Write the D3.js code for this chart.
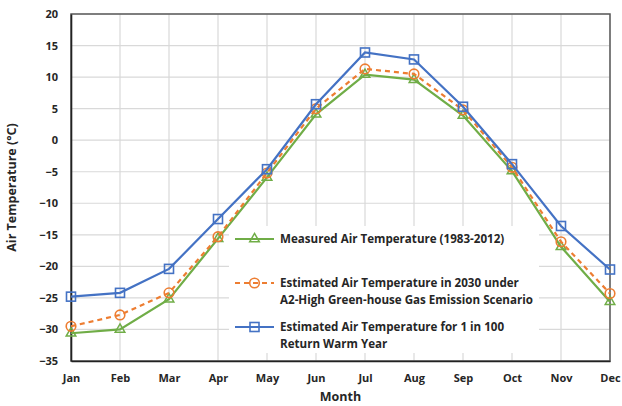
<!DOCTYPE html>
<html>
<head>
<meta charset="utf-8">
<script src="https://cdn.jsdelivr.net/npm/d3@7"></script>
<style>
  body { margin: 0; background: #fff; }
  svg { display: block; font-family: "Open Sans", Lato, sans-serif; }
</style>
</head>
<body>
<svg id="chart" width="622" height="406"></svg>
<script>
const months = ["Jan","Feb","Mar","Apr","May","Jun","Jul","Aug","Sep","Oct","Nov","Dec"];
const measured = [-30.6, -30.0, -25.2, -15.6, -5.9, 4.1, 10.4, 9.6, 3.9, -4.9, -16.9, -25.6];
const est2030 = [-29.5, -27.7, -24.2, -15.3, -5.2, 5.0, 11.3, 10.5, 4.8, -4.3, -16.1, -24.3];
const warmYear = [-24.8, -24.2, -20.4, -12.5, -4.6, 5.7, 13.9, 12.8, 5.3, -3.8, -13.6, -20.5];
const yTicks = [20, 15, 10, 5, 0, -5, -10, -15, -20, -25, -30, -35];
const seriesNames = [
  ["Measured Air Temperature (1983-2012)"],
  ["Estimated Air Temperature in 2030 under", "A2-High Green-house Gas Emission Scenario"],
  ["Estimated Air Temperature for 1 in 100", "Return Warm Year"]
];

const svg = d3.select("#chart");
const m = { left: 71, right: 12, top: 14, bottom: 45 };
const W = 622, H = 406;
const x = d3.scalePoint().domain(months).range([m.left, W - m.right]);
const y = d3.scaleLinear().domain([-35, 20]).range([H - m.bottom, m.top]);

const series = [
  { values: measured, color: "#70AD47", dash: null, marker: "triangle" },
  { values: est2030, color: "#ED7D31", dash: "5,4", marker: "circle" },
  { values: warmYear, color: "#4472C4", dash: null, marker: "square" }
];

// grid
const g = svg.append("g");
g.selectAll(".hg").data(yTicks).join("line")
  .attr("x1", m.left).attr("x2", W - m.right)
  .attr("y1", d => y(d)).attr("y2", d => y(d))
  .attr("stroke", "#d9d9d9").attr("stroke-width", 1.2);
g.selectAll(".vg").data(months).join("line")
  .attr("x1", d => x(d)).attr("x2", d => x(d))
  .attr("y1", m.top).attr("y2", H - m.bottom)
  .attr("stroke", "#d9d9d9").attr("stroke-width", 1.2);

// frame
svg.append("rect")
  .attr("x", m.left).attr("y", m.top)
  .attr("width", W - m.right - m.left).attr("height", H - m.bottom - m.top)
  .attr("fill", "none").attr("stroke", "#595959").attr("stroke-width", 1.5);

// axes
const yAxis = svg.append("g").attr("transform", `translate(${m.left},0)`)
  .call(d3.axisLeft(y).tickValues(yTicks).tickSize(0).tickPadding(13));
const xAxis = svg.append("g").attr("transform", `translate(0,${H - m.bottom})`)
  .call(d3.axisBottom(x).tickSize(0).tickPadding(13));
[yAxis, xAxis].forEach(a => {
  a.select(".domain").attr("stroke", "#222").attr("stroke-width", 1.6);
  a.selectAll("text").attr("font-family", "'Open Sans', sans-serif")
    .attr("font-size", 11).attr("font-weight", "bold").attr("fill", "#262626");
});

svg.append("text").attr("x", (m.left + W - m.right) / 2).attr("y", 401)
  .attr("text-anchor", "middle").attr("font-size", 12.5).attr("font-weight", "bold").attr("fill", "#262626")
  .text("Month");
svg.append("text").attr("transform", `translate(16,${(m.top + H - m.bottom) / 2}) rotate(-90)`)
  .attr("text-anchor", "middle").attr("font-size", 12.5).attr("font-weight", "bold").attr("fill", "#262626")
  .text("Air Temperature (°C)");

function drawMarker(sel, type, color) {
  if (type === "circle") {
    sel.append("circle").attr("r", 4.8).attr("fill", "none").attr("stroke", color).attr("stroke-width", 1.6);
  } else if (type === "square") {
    sel.append("rect").attr("x", -4.5).attr("y", -4.5).attr("width", 9).attr("height", 9)
      .attr("fill", "none").attr("stroke", color).attr("stroke-width", 1.6);
  } else {
    sel.append("path").attr("d", d3.symbol(d3.symbolTriangle, 40)())
      .attr("fill", "none").attr("stroke", color).attr("stroke-width", 1.5);
  }
}

const line = d3.line().x((d, i) => x(months[i])).y(d => y(d));
series.forEach(s => {
  svg.append("path").datum(s.values).attr("d", line)
    .attr("fill", "none").attr("stroke", s.color).attr("stroke-width", 2.2)
    .attr("stroke-dasharray", s.dash);
  s.values.forEach((v, i) => {
    const mk = svg.append("g").attr("transform", `translate(${x(months[i])},${y(v)})`);
    drawMarker(mk, s.marker, s.color);
  });
});

// legend
const leg = svg.append("g");
leg.append("rect").attr("x", 229).attr("y", 226).attr("width", 310).attr("height", 127).attr("fill", "#fff");
const rows = [239, 283, 327];
series.forEach((s, i) => {
  const r = leg.append("g").attr("transform", `translate(0,${rows[i]})`);
  r.append("line").attr("x1", 235).attr("x2", 274).attr("y1", 0).attr("y2", 0)
    .attr("stroke", s.color).attr("stroke-width", 2.2).attr("stroke-dasharray", s.dash);
  drawMarker(r.append("g").attr("transform", "translate(254.5,0)"), s.marker, s.color);
  seriesNames[i].forEach((t, j) => {
    r.append("text").attr("x", 280).attr("y", j * 16.5).attr("dy", "0.35em")
      .attr("font-size", 11.6).attr("font-weight", "bold").attr("fill", "#262626").text(t);
  });
});
</script>
</body>
</html>
